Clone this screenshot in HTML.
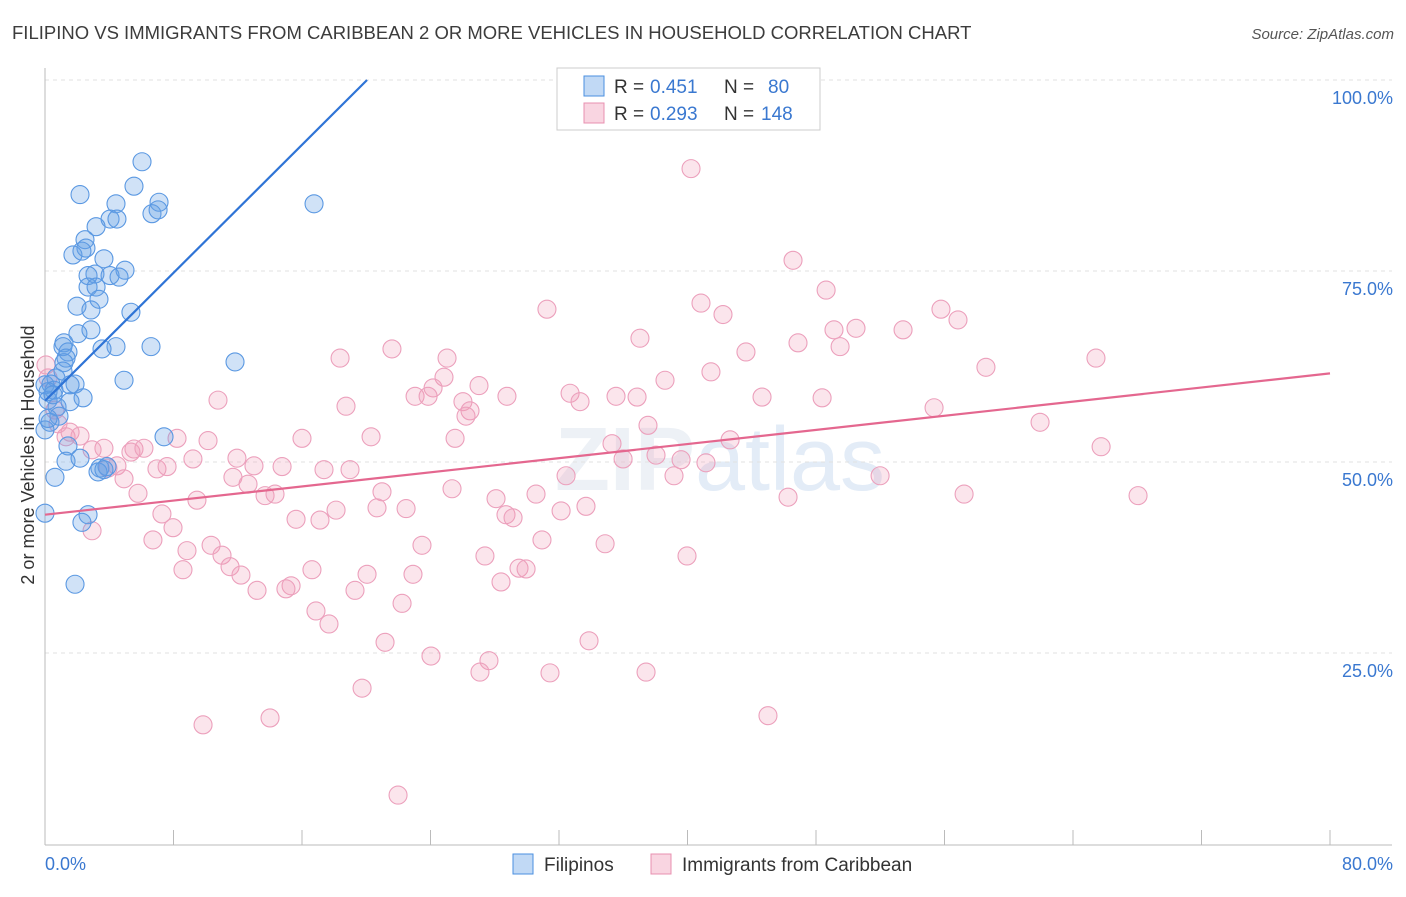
<!DOCTYPE html>
<html><head><meta charset="utf-8"><style>
body{margin:0;background:#fff;font-family:"Liberation Sans",sans-serif}
</style></head><body>
<svg width="1406" height="892" xmlns="http://www.w3.org/2000/svg" font-family="Liberation Sans, sans-serif">
<text x="12" y="39" font-size="18.5" fill="#3c3c3c">FILIPINO VS IMMIGRANTS FROM CARIBBEAN 2 OR MORE VEHICLES IN HOUSEHOLD CORRELATION CHART</text>
<text x="1394" y="39" font-size="15" fill="#555" font-style="italic" text-anchor="end">Source: ZipAtlas.com</text>
<text x="720" y="490" font-size="90" fill="#edf1f6" text-anchor="middle" font-weight="bold">ZIP<tspan fill="#e3ecf7" font-weight="normal">atlas</tspan></text>
<g id="grid"></g>
<g id="axes"></g>
<g id="pts"></g>
<g id="lines"></g>
<text transform="translate(34,455) rotate(-90)" font-size="18" fill="#333" text-anchor="middle">2 or more Vehicles in Household</text>
<g>
<rect x="557" y="68" width="263" height="62" fill="#fff" stroke="#ccc"/>
<rect x="584" y="76" width="20" height="20" fill="rgba(100,160,230,0.4)" stroke="#4a8fe0"/>
<rect x="584" y="103" width="20" height="20" fill="rgba(240,150,180,0.4)" stroke="#e890b0"/>
<text x="614" y="93" font-size="19" fill="#333">R =</text>
<text x="650" y="93" font-size="19" fill="#3a78d0">0.451</text>
<text x="724" y="93" font-size="19" fill="#333">N =</text>
<text x="768" y="93" font-size="19" fill="#3a78d0">80</text>
<text x="614" y="120" font-size="19" fill="#333">R =</text>
<text x="650" y="120" font-size="19" fill="#3a78d0">0.293</text>
<text x="724" y="120" font-size="19" fill="#333">N =</text>
<text x="761" y="120" font-size="19" fill="#3a78d0">148</text>
</g>
<g>
<rect x="513" y="854" width="20" height="20" fill="rgba(100,160,230,0.4)" stroke="#4a8fe0"/>
<text x="544" y="871" font-size="19" fill="#333">Filipinos</text>
<rect x="651" y="854" width="20" height="20" fill="rgba(240,150,180,0.4)" stroke="#e890b0"/>
<text x="682" y="871" font-size="19" fill="#333">Immigrants from Caribbean</text>
</g>
</svg>
<script>
const blueX=[6.04,2.18,5.54,7.10,6.66,7.04,4.42,4.05,4.48,3.18,2.49,2.55,1.74,2.30,3.67,4.98,3.11,2.68,4.05,4.61,2.68,3.18,3.36,1.99,2.86,5.35,2.86,2.05,1.18,1.12,4.42,6.60,3.55,1.43,1.31,1.18,4.92,1.12,0.68,0,0.37,1.87,1.56,0.56,0.19,0.19,2.37,1.56,0.75,0.87,0.31,0,1.43,1.31,2.18,3.42,3.86,3.30,3.67,0.62,0,2.68,2.30,1.87,16.75,11.83,7.41,0.19,0.50];
const blueY=[89.3,85.0,86.1,84.0,82.5,83.0,83.8,81.8,81.8,80.8,79.1,78.0,77.1,77.6,76.6,75.1,74.6,74.4,74.4,74.2,72.9,72.9,71.3,70.4,69.9,69.6,67.3,66.8,65.6,65.1,65.1,65.1,64.8,64.4,63.6,63.0,60.7,61.9,61.0,60.1,60.2,60.2,60.1,59.4,59.2,58.1,58.4,57.9,57.2,56.0,55.2,54.2,52.1,50.1,50.5,49.2,49.4,48.7,49.0,48.0,43.3,43.1,42.1,34.0,83.8,63.1,53.3,55.7,58.8];
const pinkX=[40.22,46.57,48.63,40.84,42.21,31.25,55.78,56.84,50.49,49.12,53.42,37.04,46.88,49.50,43.64,21.60,18.37,65.43,58.58,25.03,41.46,24.84,38.60,24.16,27.02,23.04,23.85,32.69,28.76,35.55,36.86,33.31,44.64,48.38,10.77,18.74,26.02,26.46,26.21,55.35,61.95,37.54,25.53,20.30,16.00,8.22,10.15,42.65,65.75,35.30,3.67,5.54,5.35,2.93,6.16,35.99,38.04,39.60,11.95,9.21,41.15,39.16,32.44,51.99,4.48,3.92,6.97,7.60,17.37,18.99,13.01,14.76,11.70,12.64,4.92,5.79,13.70,14.32,20.98,25.34,30.57,9.46,28.08,57.22,68.05,46.26,20.67,22.48,32.13,33.68,18.12,7.28,28.70,29.14,15.63,17.12,7.97,2.93,6.72,30.94,34.87,10.34,23.47,8.84,11.02,11.52,27.39,39.97,8.59,16.62,29.51,29.95,20.05,22.91,12.20,15.32,15.00,28.39,13.20,19.30,16.87,22.23,17.68,21.17,33.87,24.03,27.64,27.08,31.44,37.42,19.74,9.84,14.01,45.01,21.98,0.06,0.19,0.62,1.56,1.31,2.18,0.81];
const pinkY=[88.4,76.4,72.5,70.8,69.3,70.0,70.0,68.6,67.5,67.3,67.3,66.2,65.6,65.1,64.4,64.8,63.6,63.6,62.4,63.6,61.8,61.1,60.7,59.7,60.0,58.6,58.6,59.0,58.6,58.6,58.5,57.9,58.5,58.4,58.1,57.3,57.9,56.7,56.0,57.1,55.2,54.8,53.1,53.3,53.1,53.1,52.8,52.9,52.0,52.4,51.8,51.7,51.3,51.6,51.8,50.4,50.9,50.3,50.5,50.4,49.9,48.2,48.2,48.2,49.5,49.2,49.1,49.4,49.0,49.0,49.5,49.4,48.0,47.1,47.8,45.9,45.6,45.8,46.1,46.5,45.8,45.0,45.2,45.8,45.6,45.4,44.0,43.9,43.6,44.2,43.7,43.2,43.1,42.7,42.5,42.4,41.4,41.0,39.8,39.8,39.3,39.1,39.1,38.4,37.8,36.3,37.7,37.7,35.9,35.9,36.1,36.0,35.3,35.3,35.2,33.8,33.4,34.3,33.2,33.2,30.5,31.5,28.8,26.4,26.6,24.6,24.0,22.5,22.4,22.5,20.4,15.6,16.5,16.8,6.4,62.7,61.0,56.8,53.9,53.3,53.4,55.0];
const blueTrend=[[0,58.0],[20.05,100]];
const pinkTrend=[[0,43.1],[80,61.6]];
const yTicks=[25,50,75,100];
const yTickLabels=["25.0%","50.0%","75.0%","100.0%"];
const xTicks=[0,8,16,24,32,40,48,56,64,72,80];

const NS="http://www.w3.org/2000/svg";
const sx=v=>45+v/80*1285, sy=v=>844-v/100*764;
function mk(tag,at,parent){const e=document.createElementNS(NS,tag);for(const k in at)e.setAttribute(k,at[k]);document.getElementById(parent).appendChild(e);return e;}
yTicks.forEach((t,i)=>{
  let g=mk('line',{x1:45,x2:1392,y1:sy(t),y2:sy(t),stroke:'#e2e2e2','stroke-dasharray':'4,4'},'grid');
  
  
  let tx=mk('text',{x:1393,y:sy(t)+24,'font-size':18,fill:'#3a78d0','text-anchor':'end'},'axes');
  tx.textContent=yTickLabels[i];
  
  
});
let ya=mk('line',{x1:45,x2:45,y1:68,y2:845,stroke:'#bbb'},'axes');


let xa=mk('line',{x1:45,x2:1392,y1:845,y2:845,stroke:'#bbb'},'axes');


xTicks.forEach(t=>{
  let l=mk('line',{x1:sx(t),x2:sx(t),y1:830,y2:845,stroke:'#bbb'},'axes');
  
  
});
let x0=mk('text',{x:45,y:870,'font-size':18,fill:'#3a78d0'},'axes');x0.textContent='0.0%';


let x1=mk('text',{x:1393,y:870,'font-size':18,fill:'#3a78d0','text-anchor':'end'},'axes');x1.textContent='80.0%';


pinkX.forEach((v,i)=>{
  let c=mk('circle',{cx:sx(v),cy:sy(pinkY[i]),r:9,fill:'rgba(240,150,180,0.25)',stroke:'#eca0bc','stroke-width':1.1},'pts');
  
  
});
blueX.forEach((v,i)=>{
  let c=mk('circle',{cx:sx(v),cy:sy(blueY[i]),r:9,fill:'rgba(100,160,230,0.3)',stroke:'#5a98e2','stroke-width':1.1},'pts');
  
  
});
let bl=mk('line',{x1:sx(blueTrend[0][0]),y1:sy(blueTrend[0][1]),x2:sx(blueTrend[1][0]),y2:sy(blueTrend[1][1]),stroke:'#2f74d6','stroke-width':2.2},'lines');


let pl=mk('line',{x1:sx(pinkTrend[0][0]),y1:sy(pinkTrend[0][1]),x2:sx(pinkTrend[1][0]),y2:sy(pinkTrend[1][1]),stroke:'#e4678f','stroke-width':2.2},'lines');


</script>
</body></html>
